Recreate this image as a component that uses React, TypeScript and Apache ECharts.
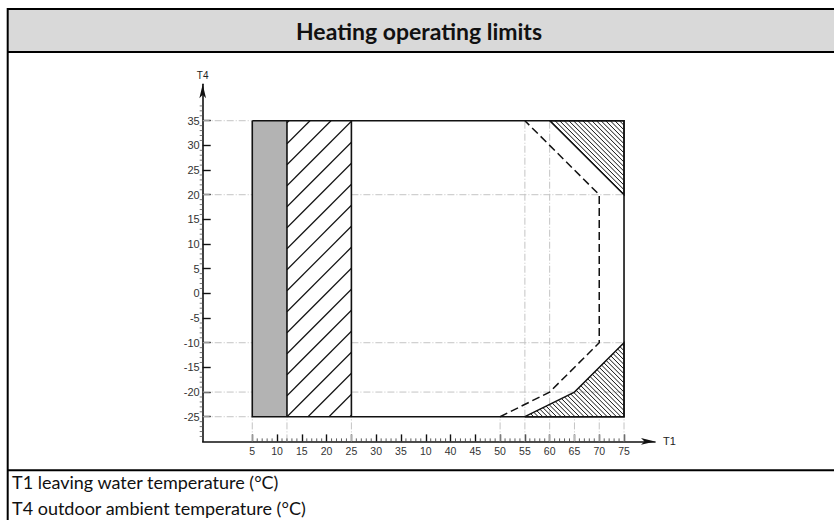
import React, { useEffect, useRef } from 'react';
import * as echarts from 'echarts';

// Printed tick labels on the T1 axis (the original print shows a stray "10" between 35 and 40)
const xTickLabels = ['5', '10', '15', '20', '25', '30', '35', '10', '40', '45', '50', '55', '60', '65', '70', '75'];
// T1 temperature at each printed tick position
const xTickValues = [5, 10, 15, 20, 25, 30, 35, 37.5, 40, 45, 50, 55, 60, 65, 70, 75];
const yTickValues = [-25, -20, -15, -10, -5, 0, 5, 10, 15, 20, 25, 30, 35];

// Regions, as [T1, T4]
const grayBand = [[5, -25], [12, -25], [12, 35], [5, 35]];
const hatchBand = [[12, -25], [25, -25], [25, 35], [12, 35]];
const envelope = [[5, 35], [75, 35], [75, -25], [5, -25], [5, 35]];
const topHatch = [[60, 35], [75, 35], [75, 20]];
const bottomHatch = [[55, -25], [75, -25], [75, -10], [65, -20]];
const dashedLimit = [[50, -25], [60, -20], [70, -10], [70, 20], [55, 35]];

// Reference (guide) lines
const guideHAcross = [20, -10, -20];
const guideHLeft = [35, 20, -10, -20, -25];
const guideVFull = [55, 60];
const guideVBottom = [5, 12, 25, 50, 55, 60, 65, 70, 75];

const T1_MIN = 5;
const T1_MAX = 75;
const T4_MIN = -25;
const T4_MAX = 35;

function toX(t: number): number {
  const v = xTickValues;
  if (t <= v[0]) return (t - v[0]) / 5;
  for (let i = 0; i < v.length - 1; i++) {
    if (t >= v[i] && t <= v[i + 1]) return i + (t - v[i]) / (v[i + 1] - v[i]);
  }
  return v.length - 1 + (t - v[v.length - 1]) / 5;
}

function clipHatch(poly: number[][], nx: number, ny: number, c0: number, step: number) {
  const vals = poly.map((p) => p[0] * nx + p[1] * ny);
  const lo = Math.min(...vals);
  const hi = Math.max(...vals);
  const kStart = Math.ceil((lo - c0) / step);
  const kEnd = Math.floor((hi - c0) / step);
  const segs: number[][] = [];
  for (let k = kStart; k <= kEnd; k++) {
    const c = c0 + k * step;
    const pts: number[][] = [];
    for (let i = 0; i < poly.length; i++) {
      const a = poly[i];
      const b = poly[(i + 1) % poly.length];
      const fa = a[0] * nx + a[1] * ny - c;
      const fb = b[0] * nx + b[1] * ny - c;
      if ((fa <= 0 && fb >= 0) || (fa >= 0 && fb <= 0)) {
        if (fa === fb) continue;
        const r = fa / (fa - fb);
        pts.push([a[0] + (b[0] - a[0]) * r, a[1] + (b[1] - a[1]) * r]);
      }
    }
    if (pts.length >= 2) {
      const dx = -ny;
      const dy = nx;
      let pMin = pts[0];
      let pMax = pts[0];
      for (const p of pts) {
        if (p[0] * dx + p[1] * dy < pMin[0] * dx + pMin[1] * dy) pMin = p;
        if (p[0] * dx + p[1] * dy > pMax[0] * dx + pMax[1] * dy) pMax = p;
      }
      segs.push([pMin[0], pMin[1], pMax[0], pMax[1]]);
    }
  }
  return segs;
}

const GUIDE = { stroke: '#c4c4c4', lineWidth: 1, lineDash: [7, 2, 1, 2] };

export default function App() {
  const ref = useRef<HTMLDivElement>(null);

  useEffect(() => {
    if (!ref.current) return;
    const chart = echarts.init(ref.current, undefined, { renderer: 'svg' });

    const pc = (api: any, p: number[]) => api.coord([toX(p[0]), p[1]]);

    const renderGuides = (params: any, api: any) => {
      const children: any[] = [];
      const xAxisStart = -2;
      const yAxisStart = -30;
      guideHLeft.forEach((y) => {
        const a = api.coord([xAxisStart, y]);
        const b = pc(api, [T1_MIN, y]);
        children.push({ type: 'line', shape: { x1: a[0], y1: a[1], x2: b[0], y2: b[1] }, style: GUIDE });
      });
      guideHAcross.forEach((y) => {
        const a = pc(api, [25, y]);
        const b = pc(api, [T1_MAX, y]);
        children.push({ type: 'line', shape: { x1: a[0], y1: a[1], x2: b[0], y2: b[1] }, style: GUIDE });
      });
      guideVBottom.forEach((x) => {
        const a = api.coord([toX(x), yAxisStart]);
        const b = pc(api, [x, T4_MIN]);
        children.push({ type: 'line', shape: { x1: a[0], y1: a[1], x2: b[0], y2: b[1] }, style: GUIDE });
      });
      guideVFull.forEach((x) => {
        const a = pc(api, [x, T4_MIN]);
        const b = pc(api, [x, T4_MAX]);
        children.push({ type: 'line', shape: { x1: a[0], y1: a[1], x2: b[0], y2: b[1] }, style: GUIDE });
      });
      return { type: 'group', children };
    };

    const renderRegions = (params: any, api: any) => {
      const children: any[] = [];
      const gray = grayBand.map((p) => pc(api, p));
      children.push({ type: 'polygon', shape: { points: gray }, style: { fill: '#b3b3b3', stroke: 'none' } });

      // wide "/" hatching in the 12..25 band
      const hb = hatchBand.map((p) => pc(api, p));
      const c0 = hb[0][0] + hb[0][1];
      clipHatch(hb, 1, 1, c0, 21).forEach((s) => {
        children.push({ type: 'line', shape: { x1: s[0], y1: s[1], x2: s[2], y2: s[3] }, style: { stroke: '#111', lineWidth: 1.2 } });
      });

      // dense "\" hatching in the corner regions
      [topHatch, bottomHatch].forEach((poly) => {
        const pts = poly.map((p) => pc(api, p));
        const anchor = pc(api, [T1_MAX, T4_MAX]);
        const c = anchor[0] - anchor[1];
        clipHatch(pts, 1, -1, c, 4.6).forEach((s) => {
          children.push({ type: 'line', shape: { x1: s[0], y1: s[1], x2: s[2], y2: s[3] }, style: { stroke: '#111', lineWidth: 1 } });
        });
        children.push({ type: 'polygon', shape: { points: pts }, style: { fill: 'none', stroke: '#111', lineWidth: 1.4 } });
      });

      // outline and band borders
      children.push({
        type: 'polyline',
        shape: { points: envelope.map((p) => pc(api, p)) },
        style: { fill: 'none', stroke: '#111', lineWidth: 1.6 },
      });
      [12, 25].forEach((x) => {
        const a = pc(api, [x, T4_MIN]);
        const b = pc(api, [x, T4_MAX]);
        children.push({ type: 'line', shape: { x1: a[0], y1: a[1], x2: b[0], y2: b[1] }, style: { stroke: '#111', lineWidth: 1.6 } });
      });

      // dashed limit
      children.push({
        type: 'polyline',
        shape: { points: dashedLimit.map((p) => pc(api, p)) },
        style: { fill: 'none', stroke: '#111', lineWidth: 1.5, lineDash: [8, 4] },
      });
      return { type: 'group', children };
    };

    const renderMinorTicks = (params: any, api: any) => {
      const children: any[] = [];
      for (let i = 0; i < xTickLabels.length - 1; i++) {
        for (let j = 1; j < 5; j++) {
          const p = api.coord([i + j / 5, -30]);
          children.push({ type: 'line', shape: { x1: p[0], y1: p[1], x2: p[0], y2: p[1] - 3 }, style: { stroke: '#333', lineWidth: 0.8 } });
        }
      }
      for (let v = -29; v <= 38; v++) {
        if (v % 5 === 0) continue;
        const p = api.coord([-2, v]);
        children.push({ type: 'line', shape: { x1: p[0] - 3, y1: p[1], x2: p[0], y2: p[1] }, style: { stroke: '#555', lineWidth: 0.8 } });
      }
      return { type: 'group', children };
    };

    const xIdx = xTickLabels.map((_, i) => i);

    chart.setOption({
      animation: false,
      backgroundColor: '#ffffff',
      grid: { left: 202.7, top: 84.2, width: 452.3, height: 357.2, containLabel: false },
      xAxis: {
        type: 'value',
        min: -2,
        max: 16.25,
        name: 'T1',
        nameLocation: 'end',
        nameGap: 8,
        nameTextStyle: { fontFamily: 'Liberation Sans', fontSize: 11, color: '#222' },
        axisLine: { show: true, onZero: false, symbol: ['none', 'arrow'], symbolSize: [5, 14], lineStyle: { color: '#111', width: 1.6 } },
        axisTick: { show: true, inside: true, length: 7, customValues: xIdx, lineStyle: { color: '#111', width: 1.4 } },
        axisLabel: {
          show: true,
          customValues: xIdx,
          formatter: (v: number) => xTickLabels[Math.round(v)] ?? '',
          fontFamily: 'Liberation Sans',
          fontSize: 10.5,
          color: '#333',
          margin: 4,
        },
        splitLine: { show: false },
      },
      yAxis: {
        type: 'value',
        min: -30,
        max: 42.4,
        name: 'T4',
        nameLocation: 'end',
        nameGap: 4,
        nameTextStyle: { fontFamily: 'Liberation Sans', fontSize: 10, color: '#222', align: 'center' },
        axisLine: { show: true, onZero: false, symbol: ['none', 'arrow'], symbolSize: [5, 14], lineStyle: { color: '#111', width: 1.6 } },
        axisTick: { show: true, inside: true, length: 8, customValues: yTickValues, lineStyle: { color: '#111', width: 1.4 } },
        axisLabel: {
          show: true,
          customValues: yTickValues,
          fontFamily: 'Liberation Sans',
          fontSize: 11,
          color: '#333',
          margin: 3,
        },
        splitLine: { show: false },
      },
      series: [
        { type: 'custom', silent: true, clip: false, data: [[0, 0]], renderItem: renderGuides, z: 1 },
        { type: 'custom', silent: true, clip: false, data: [[0, 0]], renderItem: renderRegions, z: 2 },
        { type: 'custom', silent: true, clip: false, data: [[0, 0]], renderItem: renderMinorTicks, z: 3 },
      ],
      graphic: [
        { type: 'rect', shape: { x: 8, y: 9, width: 826, height: 43 }, style: { fill: '#d9d9d9' }, z: -10 },
        { type: 'line', shape: { x1: 7, y1: 9, x2: 834, y2: 9 }, style: { stroke: '#000', lineWidth: 2 } },
        { type: 'line', shape: { x1: 7.7, y1: 8, x2: 7.7, y2: 520 }, style: { stroke: '#000', lineWidth: 2 } },
        { type: 'line', shape: { x1: 7, y1: 52, x2: 834, y2: 52 }, style: { stroke: '#000', lineWidth: 2 } },
        { type: 'line', shape: { x1: 7, y1: 470.3, x2: 834, y2: 470.3 }, style: { stroke: '#000', lineWidth: 2 } },
        {
          type: 'text',
          x: 419,
          y: 31,
          style: { text: 'Heating operating limits', font: 'bold 23px Lato', fill: '#111', textAlign: 'center', textVerticalAlign: 'middle' },
        },
        {
          type: 'text',
          x: 12,
          y: 482,
          style: { text: 'T1 leaving water temperature (°C)', font: '18px Lato', fill: '#111', textAlign: 'left', textVerticalAlign: 'middle' },
        },
        {
          type: 'text',
          x: 12,
          y: 508,
          style: { text: 'T4 outdoor ambient temperature (°C)', font: '18px Lato', fill: '#111', textAlign: 'left', textVerticalAlign: 'middle' },
        },
      ],
    });

    return () => chart.dispose();
  }, []);

  return <div ref={ref} style={{ position: 'absolute', left: 0, top: 0, width: 834, height: 520 }} />;
}
